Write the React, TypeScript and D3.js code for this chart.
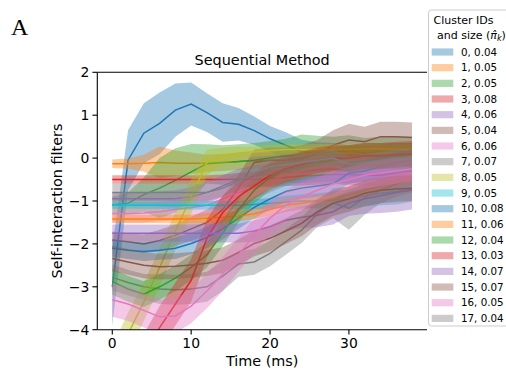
import React from 'react';
import * as d3 from 'd3';

const times = [0, 2, 4, 6, 8, 10, 12, 14, 16, 18, 20, 22, 24, 26, 28, 30, 32, 34, 36, 38];

const clusterIds = [0, 1, 2, 3, 4, 5, 6, 7, 8, 9, 10, 11, 12, 13, 14, 15, 16, 17];
const clusterSizes = [0.04, 0.05, 0.05, 0.08, 0.06, 0.04, 0.06, 0.07, 0.05, 0.05, 0.08, 0.06, 0.04, 0.03, 0.07, 0.07, 0.05, 0.04];

const c0Mean = [-3.0, -0.05, 0.58, 0.81, 1.12, 1.26, 1.06, 0.83, 0.79, 0.64, 0.45, 0.3, 0.15, 0.12, 0.1, 0.05, 0.05, 0.08, 0.1, 0.1];
const c0Sd = [0.9, 0.7, 0.7, 0.72, 0.62, 0.5, 0.45, 0.45, 0.38, 0.33, 0.3, 0.3, 0.28, 0.25, 0.25, 0.25, 0.25, 0.25, 0.25, 0.25];
const c1Mean = [-0.13, -0.13, -0.12, -0.1, -0.12, -0.12, -0.12, -0.1, -0.08, -0.06, -0.05, -0.05, -0.04, -0.03, -0.03, -0.02, -0.02, 0.0, 0.0, 0.02];
const c1Sd = [0.1, 0.12, 0.2, 0.37, 0.3, 0.25, 0.2, 0.2, 0.2, 0.18, 0.18, 0.18, 0.18, 0.18, 0.18, 0.2, 0.2, 0.2, 0.2, 0.2];
const c2Mean = [-1.1, -1.05, -0.85, -0.7, -0.52, -0.32, -0.13, -0.1, -0.08, -0.05, 0.0, 0.05, 0.1, 0.12, 0.15, 0.18, 0.12, 0.15, 0.15, 0.15];
const c2Sd = [0.2, 0.25, 0.4, 0.7, 0.75, 0.65, 0.45, 0.4, 0.4, 0.4, 0.4, 0.4, 0.45, 0.4, 0.35, 0.35, 0.35, 0.35, 0.35, 0.35];
const c3Mean = [-0.5, -0.5, -0.5, -0.5, -0.5, -0.5, -0.5, -0.5, -0.5, -0.5, -0.48, -0.45, -0.42, -0.4, -0.38, -0.38, -0.4, -0.4, -0.35, -0.3];
const c3Sd = [0.1, 0.1, 0.1, 0.1, 0.1, 0.1, 0.1, 0.12, 0.15, 0.18, 0.2, 0.2, 0.22, 0.22, 0.22, 0.25, 0.25, 0.25, 0.25, 0.25];
const c4Mean = [-0.95, -0.95, -0.95, -0.95, -0.95, -0.9, -0.8, -0.65, -0.5, -0.42, -0.38, -0.33, -0.3, -0.28, -0.25, -0.3, -0.22, -0.2, -0.15, -0.1];
const c4Sd = [0.15, 0.15, 0.15, 0.18, 0.2, 0.22, 0.25, 0.25, 0.25, 0.25, 0.25, 0.25, 0.28, 0.28, 0.3, 0.3, 0.3, 0.3, 0.3, 0.3];
const c5Mean = [-1.91, -1.95, -2.0, -1.92, -1.8, -1.65, -1.5, -1.2, -0.7, -0.1, -0.05, -0.05, 0.0, 0.1, 0.3, 0.42, 0.38, 0.5, 0.5, 0.48];
const c5Sd = [0.2, 0.2, 0.22, 0.25, 0.25, 0.28, 0.3, 0.3, 0.3, 0.3, 0.3, 0.3, 0.3, 0.32, 0.35, 0.38, 0.35, 0.35, 0.35, 0.35];
const c6Mean = [-1.3, -1.3, -1.28, -1.25, -1.2, -1.15, -1.1, -0.95, -0.8, -0.7, -0.55, -0.4, -0.3, -0.2, -0.2, -0.2, -0.22, -0.25, -0.2, -0.15];
const c6Sd = [0.2, 0.2, 0.22, 0.22, 0.25, 0.25, 0.25, 0.25, 0.25, 0.25, 0.25, 0.25, 0.25, 0.25, 0.25, 0.25, 0.25, 0.25, 0.25, 0.25];
const c7Mean = [-2.78, -2.9, -3.0, -3.05, -3.07, -3.05, -3.0, -2.75, -2.47, -2.42, -2.22, -1.95, -1.68, -1.3, -1.05, -1.17, -0.92, -0.75, -0.6, -0.5];
const c7Sd = [0.3, 0.3, 0.3, 0.35, 0.35, 0.35, 0.35, 0.35, 0.3, 0.3, 0.3, 0.3, 0.3, 0.3, 0.35, 0.5, 0.4, 0.3, 0.3, 0.3];
const c8Mean = [-4.9, -4.1, -3.35, -2.55, -1.7, -0.9, -0.1, 0.05, 0.12, 0.15, 0.18, 0.2, 0.2, 0.2, 0.2, 0.2, 0.22, 0.22, 0.2, 0.2];
const c8Sd = [0.5, 0.5, 0.45, 0.45, 0.45, 0.4, 0.3, 0.2, 0.15, 0.12, 0.12, 0.12, 0.12, 0.12, 0.12, 0.12, 0.12, 0.12, 0.12, 0.12];
const c9Mean = [-1.1, -1.1, -1.1, -1.1, -1.1, -1.1, -1.1, -1.1, -1.1, -1.08, -1.05, -1.03, -1.0, -1.0, -0.98, -0.95, -0.88, -0.82, -0.78, -0.72];
const c9Sd = [0.08, 0.08, 0.08, 0.08, 0.1, 0.1, 0.1, 0.1, 0.1, 0.12, 0.12, 0.15, 0.15, 0.18, 0.2, 0.22, 0.25, 0.28, 0.3, 0.3];
const c10Mean = [-2.1, -2.15, -2.18, -2.15, -2.1, -1.99, -1.85, -1.65, -1.4, -1.15, -0.95, -0.78, -0.7, -0.65, -0.6, -0.35, -0.3, -0.2, -0.1, -0.05];
const c10Sd = [0.2, 0.2, 0.22, 0.22, 0.25, 0.25, 0.25, 0.25, 0.25, 0.25, 0.25, 0.25, 0.25, 0.25, 0.25, 0.25, 0.25, 0.25, 0.25, 0.25];
const c11Mean = [-1.42, -1.42, -1.42, -1.42, -1.42, -1.42, -1.4, -1.38, -1.35, -1.3, -1.2, -1.1, -1.05, -1.0, -0.95, -0.86, -0.75, -0.65, -0.55, -0.48];
const c11Sd = [0.1, 0.1, 0.1, 0.1, 0.1, 0.1, 0.12, 0.12, 0.12, 0.12, 0.15, 0.15, 0.15, 0.15, 0.15, 0.15, 0.15, 0.15, 0.15, 0.15];
const c12Mean = [-2.88, -3.05, -3.17, -3.0, -2.8, -2.55, -2.25, -1.75, -1.2, -0.75, -0.45, -0.3, -0.2, -0.1, -0.05, 0.0, 0.05, 0.05, 0.05, 0.05];
const c12Sd = [0.3, 0.3, 0.3, 0.3, 0.3, 0.3, 0.3, 0.3, 0.3, 0.3, 0.3, 0.3, 0.3, 0.3, 0.3, 0.3, 0.3, 0.3, 0.3, 0.3];
const c13Mean = [-5.6, -5.1, -4.6, -3.95, -3.4, -2.85, -1.87, -1.27, -0.9, -0.65, -0.4, -0.25, -0.15, -0.05, 0.0, 0.0, 0.05, 0.05, 0.08, 0.1];
const c13Sd = [0.5, 0.5, 0.5, 0.5, 0.5, 0.5, 0.45, 0.4, 0.35, 0.3, 0.3, 0.3, 0.3, 0.3, 0.3, 0.3, 0.3, 0.3, 0.3, 0.3];
const c14Mean = [-1.75, -1.75, -1.75, -1.75, -1.75, -1.75, -1.75, -1.75, -1.75, -1.7, -1.6, -1.45, -1.38, -1.33, -1.25, -1.05, -0.95, -0.88, -0.8, -0.75];
const c14Sd = [0.2, 0.2, 0.2, 0.2, 0.2, 0.2, 0.22, 0.22, 0.22, 0.25, 0.25, 0.25, 0.25, 0.28, 0.3, 0.3, 0.35, 0.4, 0.45, 0.45];
const c15Mean = [-2.34, -2.42, -2.5, -2.53, -2.52, -2.49, -2.45, -2.38, -2.2, -1.99, -1.87, -1.7, -1.52, -1.25, -1.05, -0.95, -0.82, -0.75, -0.72, -0.7];
const c15Sd = [0.3, 0.3, 0.3, 0.3, 0.3, 0.3, 0.3, 0.3, 0.3, 0.3, 0.3, 0.3, 0.3, 0.3, 0.3, 0.3, 0.3, 0.3, 0.3, 0.3];
const c16Mean = [-3.3, -3.4, -3.55, -3.7, -3.68, -3.45, -3.1, -2.7, -2.25, -1.8, -1.4, -1.1, -0.9, -0.75, -0.6, -0.5, -0.4, -0.35, -0.3, -0.25];
const c16Sd = [0.4, 0.4, 0.4, 0.4, 0.4, 0.4, 0.4, 0.4, 0.4, 0.4, 0.4, 0.35, 0.35, 0.3, 0.3, 0.3, 0.3, 0.3, 0.3, 0.3];
const c17Mean = [-0.8, -0.8, -0.8, -0.8, -0.8, -0.8, -0.8, -0.7, -0.55, -0.35, -0.2, -0.15, -0.1, -0.05, 0.0, -0.15, -0.1, -0.05, 0.0, 0.0];
const c17Sd = [0.2, 0.2, 0.2, 0.2, 0.2, 0.2, 0.2, 0.2, 0.2, 0.2, 0.2, 0.2, 0.2, 0.2, 0.2, 0.2, 0.2, 0.2, 0.2, 0.2];

const means = [c0Mean, c1Mean, c2Mean, c3Mean, c4Mean, c5Mean, c6Mean, c7Mean, c8Mean, c9Mean, c10Mean, c11Mean, c12Mean, c13Mean, c14Mean, c15Mean, c16Mean, c17Mean];
const spreads = [c0Sd, c1Sd, c2Sd, c3Sd, c4Sd, c5Sd, c6Sd, c7Sd, c8Sd, c9Sd, c10Sd, c11Sd, c12Sd, c13Sd, c14Sd, c15Sd, c16Sd, c17Sd];

const xTicks = [0, 10, 20, 30];
const yTicks = [2, 1, 0, -1, -2, -3, -4];

const tab10 = ['#1f77b4', '#ff7f0e', '#2ca02c', '#d62728', '#9467bd', '#8c564b', '#e377c2', '#7f7f7f', '#bcbd22', '#17becf'];

const W = 506, H = 370;
const L = 97.3, R = 427, T = 72.3, B = 329.7;
const font = 'DejaVu Sans, sans-serif';

export default function App() {
  const x = d3.scaleLinear().domain([-1.9, 39.9]).range([L, R]);
  const y = d3.scaleLinear().domain([-4, 2]).range([B, T]);
  const fmt = (v: number) => (v < 0 ? '\u2212' + Math.abs(v) : String(v));

  const series = clusterIds.map((id, k) => {
    const pts = times.map((t, i) => ({ t, m: means[k][i], s: spreads[k][i] }));
    const line = d3.line<any>().x(d => x(d.t)).y(d => y(d.m))(pts) || '';
    const area = d3.area<any>().x(d => x(d.t)).y0(d => y(d.m - d.s)).y1(d => y(d.m + d.s))(pts) || '';
    return { id, color: tab10[k % 10], line, area };
  });

  const legX = 428.5, legY = 10, rowH = 15.67, row0 = 52;

  return (
    <svg width={W} height={H} style={{ position: 'absolute', left: 0, top: 0, background: '#fff' }} fontFamily={font}>
      <defs>
        <clipPath id="plotclip">
          <rect x={L} y={T} width={R - L} height={B - T} />
        </clipPath>
      </defs>
      <rect x={0} y={0} width={W} height={H} fill="#fff" />
      <text x={11} y={35} fontFamily="Liberation Serif, serif" fontSize={24}>A</text>

      <g clipPath="url(#plotclip)">
        {series.map(s => (
          <g key={s.id}>
            <path d={s.area} fill={s.color} fillOpacity={0.4} stroke="none" />
            <path d={s.line} fill="none" stroke={s.color} strokeWidth={1.5} />
          </g>
        ))}
      </g>

      {/* spines */}
      <line x1={L} x2={L} y1={T} y2={B} stroke="#000" strokeWidth={1.1} />
      <line x1={L} x2={R} y1={B} y2={B} stroke="#000" strokeWidth={1.1} />
      <line x1={L} x2={R} y1={T} y2={T} stroke="#000" strokeWidth={1.1} />

      {xTicks.map(t => (
        <g key={t}>
          <line x1={x(t)} x2={x(t)} y1={B} y2={B + 4.9} stroke="#000" strokeWidth={1.1} />
          <text x={x(t)} y={348} textAnchor="middle" fontSize={13.9}>{String(t)}</text>
        </g>
      ))}
      {yTicks.map(v => (
        <g key={v}>
          <line x1={L - 4.9} x2={L} y1={y(v)} y2={y(v)} stroke="#000" strokeWidth={1.1} />
          <text x={L - 8} y={y(v)} dy="0.36em" textAnchor="end" fontSize={13.9}>{fmt(v)}</text>
        </g>
      ))}

      <text x={(L + R) / 2} y={366} textAnchor="middle" fontSize={14.4}>Time (ms)</text>
      <text transform={`translate(62, ${(T + B) / 2}) rotate(-90)`} textAnchor="middle" fontSize={14.4}>Self-interaction filters</text>
      <text x={(L + R) / 2} y={64.5} textAnchor="middle" fontSize={14.4}>Sequential Method</text>

      {/* legend */}
      <rect x={legX} y={legY} width={100} height={316} rx={3} fill="#fff" fillOpacity={0.9} stroke="#cccccc" strokeWidth={1} />
      <text x={433.5} y={24} fontSize={11}>Cluster IDs</text>
      <text x={437} y={38.5} fontSize={11}>
        and size (<tspan fontStyle="italic">{'\u03c0\u0302'}</tspan>
        <tspan fontStyle="italic" fontSize={8} dy={2.5}>k</tspan>
        <tspan dy={-2.5}>)</tspan>
      </text>
      {series.map((s, i) => (
        <g key={'leg' + s.id}>
          <rect x={431.7} y={row0 + i * rowH - 3.6} width={21.6} height={7.2} fill={s.color} fillOpacity={0.4} />
          <text x={461} y={row0 + i * rowH} dy="0.36em" fontSize={10.3}>{`${s.id}, ${clusterSizes[i].toFixed(2)}`}</text>
        </g>
      ))}
    </svg>
  );
}
